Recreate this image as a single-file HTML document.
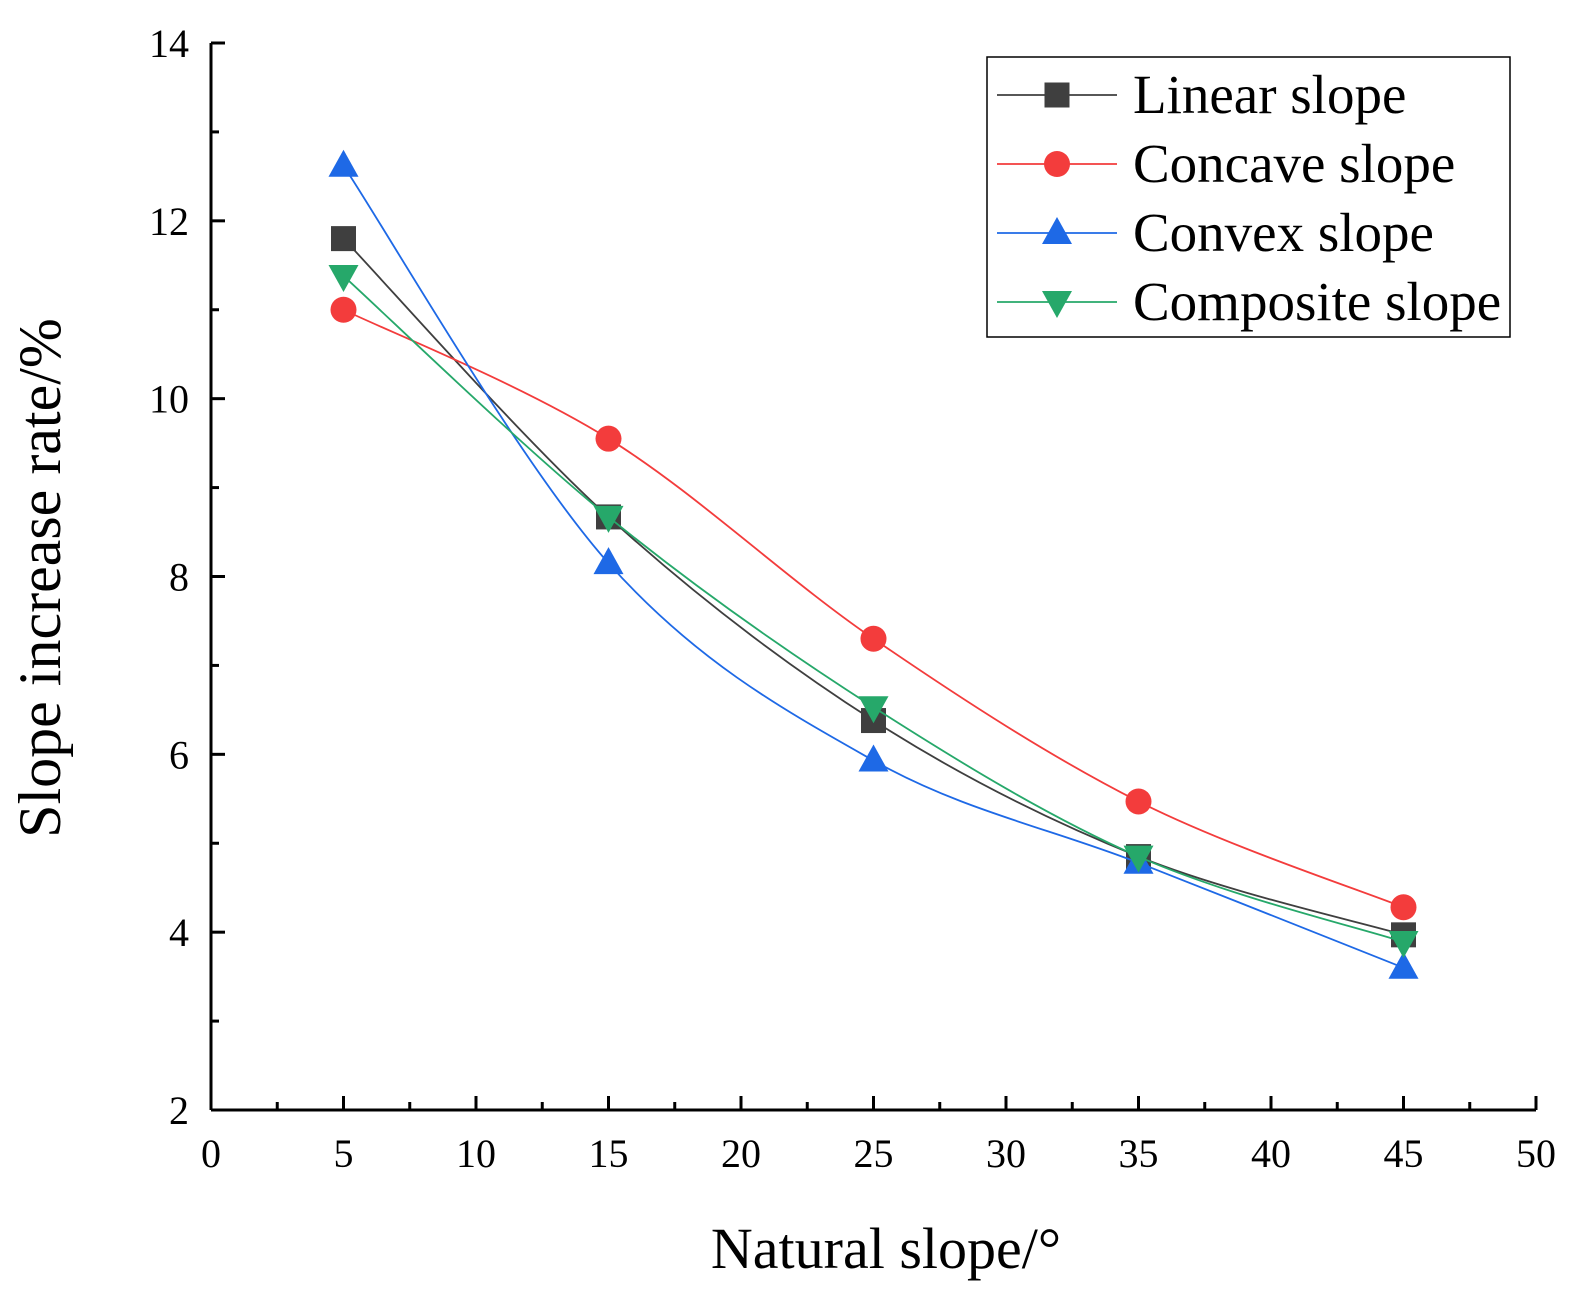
<!DOCTYPE html>
<html><head><meta charset="utf-8"><style>
body{margin:0;background:#fff}
svg{display:block;font-family:"Liberation Serif","DejaVu Serif",serif}
</style></head><body>
<svg id="chart" width="1575" height="1297" viewBox="0 0 1575 1297">
<g id="axes"></g><g id="series"></g><g id="legend"></g>
<text x="886" y="1268" font-size="58" text-anchor="middle">Natural slope/°</text>
<text transform="translate(60,578) rotate(-90)" font-size="60" text-anchor="middle">Slope increase rate/%</text>
</svg>
<script>
const categories=[5,15,25,35,45];
const seriesNames=["Linear slope","Concave slope","Convex slope","Composite slope"];
const linearVals=[11.8,8.67,6.38,4.85,3.97];
const concaveVals=[11.0,9.55,7.3,5.47,4.28];
const convexVals=[12.62,8.15,5.93,4.78,3.6];
const compositeVals=[11.38,8.67,6.53,4.85,3.89];
const xTicks=[0,5,10,15,20,25,30,35,40,45,50];
const yTicks=[2,4,6,8,10,12,14];
const colors=["#3f3f3f","#f33c3c","#1e69e6","#26a86a"];
const markers=["square","circle","up","down"];
const NS="http://www.w3.org/2000/svg";
const X0=211,X1=1536,Y0=1110,Y1=43;
const xs=v=>X0+(v-0)/(50-0)*(X1-X0);
const ys=v=>Y0-(v-2)/(14-2)*(Y0-Y1);
function mk(tag,attrs,parent){const e=document.createElementNS(NS,tag);for(const k in attrs)e.setAttribute(k,attrs[k]);parent.appendChild(e);return e;}
const axes=document.getElementById('axes');
let e=mk('line',{x1:X0,y1:Y0,x2:X1,y2:Y0,stroke:'#000','stroke-width':3},axes);


e=mk('line',{x1:X0,y1:Y0,x2:X0,y2:Y1,stroke:'#000','stroke-width':3},axes);


xTicks.forEach((t,i)=>{
  mk('line',{x1:xs(t),y1:Y0,x2:xs(t),y2:Y0-14,stroke:'#000','stroke-width':3},axes);
  if(i<xTicks.length-1) mk('line',{x1:xs(t+2.5),y1:Y0,x2:xs(t+2.5),y2:Y0-8,stroke:'#000','stroke-width':3},axes);
  const tx=mk('text',{x:xs(t),y:Y0+57,'font-size':40,'text-anchor':'middle'},axes);
  tx.textContent=t;
  
  
});
yTicks.forEach((t,i)=>{
  mk('line',{x1:X0,y1:ys(t),x2:X0+14,y2:ys(t),stroke:'#000','stroke-width':3},axes);
  if(i<yTicks.length-1) mk('line',{x1:X0,y1:ys(t+1),x2:X0+8,y2:ys(t+1),stroke:'#000','stroke-width':3},axes);
  const tx=mk('text',{x:X0-22,y:ys(t)+14,'font-size':40,'text-anchor':'end'},axes);
  tx.textContent=t;
  
  
});
function spline(pts){
  let d=`M${pts[0][0]},${pts[0][1]}`;
  for(let i=0;i<pts.length-1;i++){
    const p0=pts[i-1]||pts[i],p1=pts[i],p2=pts[i+1],p3=pts[i+2]||p2;
    const c1=[p1[0]+(p2[0]-p0[0])/6,p1[1]+(p2[1]-p0[1])/6];
    const c2=[p2[0]-(p3[0]-p1[0])/6,p2[1]-(p3[1]-p1[1])/6];
    d+=` C${c1[0]},${c1[1]} ${c2[0]},${c2[1]} ${p2[0]},${p2[1]}`;
  }
  return d;
}
function marker(type,x,y,color,parent){
  const s=12.5;
  if(type==='square') return mk('rect',{x:x-s,y:y-s,width:2*s,height:2*s,fill:color},parent);
  if(type==='circle') return mk('circle',{cx:x,cy:y,r:13,fill:color},parent);
  if(type==='up') return mk('polygon',{points:`${x},${y-16} ${x+15},${y+11} ${x-15},${y+11}`,fill:color},parent);
  return mk('polygon',{points:`${x},${y+16} ${x+15},${y-11} ${x-15},${y-11}`,fill:color},parent);
}
const all=[linearVals,concaveVals,convexVals,compositeVals];
const sg=document.getElementById('series');
all.forEach((vals,si)=>{
  const pts=categories.map((c,i)=>[xs(c),ys(vals[i])]);
  const p=mk('path',{d:spline(pts),fill:'none',stroke:colors[si],'stroke-width':1.8},sg);
  
  
  pts.forEach(pt=>{
    const m=marker(markers[si],pt[0],pt[1],colors[si],sg);
    
    
  });
});
const lg=document.getElementById('legend');
const box=mk('rect',{x:987,y:57,width:523,height:280,fill:'#fff',stroke:'#000','stroke-width':1.5},lg);


seriesNames.forEach((n,i)=>{
  const y=95+i*69;
  mk('line',{x1:997,y1:y,x2:1117,y2:y,stroke:colors[i],'stroke-width':1.8},lg);
  marker(markers[i],1057,y,colors[i],lg);
  const t=mk('text',{x:1133,y:y+18,'font-size':55},lg);
  t.textContent=n;
  
  
});
</script>
</body></html>
